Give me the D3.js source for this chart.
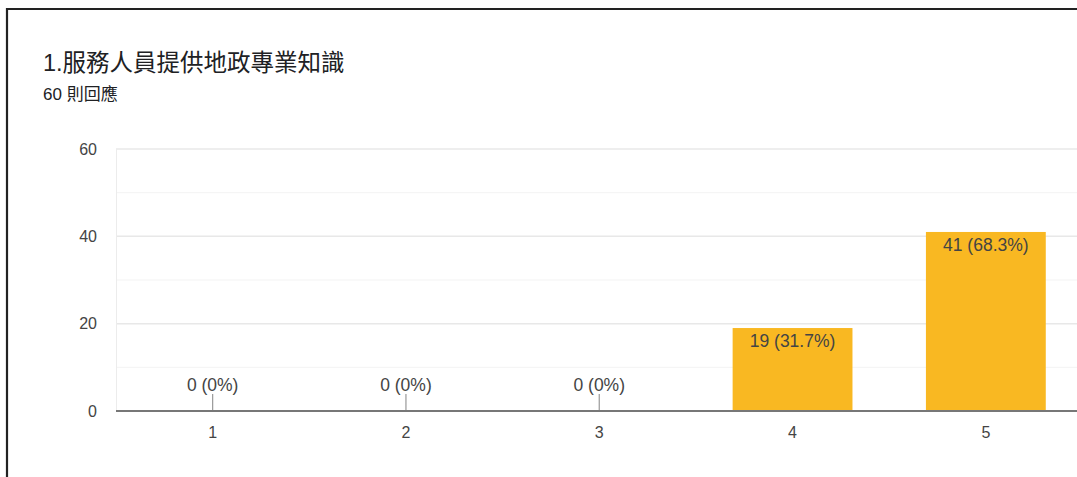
<!DOCTYPE html>
<html><head><meta charset="utf-8">
<script src="https://cdn.jsdelivr.net/npm/d3@7"></script>
<style>
html,body{margin:0;padding:0;background:#fff;}
svg{display:block;}
</style></head>
<body>
<svg id="chart" width="1077" height="477"></svg>
<script>
const titleText = "1.服務人員提供地政專業知識";
const subtitleText = "60 則回應";
const categories = ["1","2","3","4","5"];
const counts = [0,0,0,19,41];
const percents = ["0%","0%","0%","31.7%","68.3%"];
const yTicks = [0,20,40,60];
const yMinor = [10,30,50];

const svg = d3.select("#chart");
const font = "'Liberation Sans', Arial, 'Noto Sans CJK TC', sans-serif";

// frame
svg.append("path").attr("d","M7,477 L7,9 L1077,9").attr("fill","none").attr("stroke","#222").attr("stroke-width",2.2);

svg.append("text").attr("x",43).attr("y",71).text(titleText)
  .attr("font-family",font).attr("font-size",23.5).attr("fill","#202124");
svg.append("text").attr("x",43).attr("y",100).text(subtitleText)
  .attr("font-family",font).attr("font-size",17).attr("fill","#202124");

const x = d3.scaleBand().domain(categories).range([116,1082.5]).paddingInner(0.38).paddingOuter(0.19);
const y = d3.scaleLinear().domain([0,60]).range([411,149]);

// minor gridlines
svg.append("g").selectAll("line").data(yMinor).join("line")
  .attr("x1",116).attr("x2",1077).attr("y1",d=>y(d)).attr("y2",d=>y(d))
  .attr("stroke","#f3f3f3").attr("stroke-width",1);
// major gridlines
svg.append("g").selectAll("line").data(yTicks.filter(d=>d>0)).join("line")
  .attr("x1",116).attr("x2",1077).attr("y1",d=>y(d)).attr("y2",d=>y(d))
  .attr("stroke","#e8e8e8").attr("stroke-width",1.5);
// left vertical line of plot
svg.append("line").attr("x1",116.5).attr("x2",116.5).attr("y1",y(60)).attr("y2",y(0)).attr("stroke","#ececec");

// y axis labels
const yAxis = d3.axisLeft(y).tickValues(yTicks).tickSize(0).tickPadding(19);
const gy = svg.append("g").attr("transform","translate(116,0)").call(yAxis);
gy.select(".domain").remove();
gy.selectAll("text").attr("font-family",font).attr("font-size",16).attr("fill","#444");

// bars
const data = categories.map((c,i)=>({c, v:counts[i], p:percents[i]}));
svg.append("g").selectAll("rect").data(data.filter(d=>d.v>0)).join("rect")
  .attr("x",d=>x(d.c)).attr("width",x.bandwidth())
  .attr("y",d=>y(d.v)).attr("height",d=>y(0)-y(d.v))
  .attr("fill","#f9b822");

// zero ticks
svg.append("g").selectAll("line").data(data.filter(d=>d.v===0)).join("line")
  .attr("x1",d=>x(d.c)+x.bandwidth()/2).attr("x2",d=>x(d.c)+x.bandwidth()/2)
  .attr("y1",394).attr("y2",y(0)).attr("stroke","#999").attr("stroke-width",1.2);

// labels
svg.append("g").selectAll("text").data(data).join("text")
  .attr("x",d=>x(d.c)+x.bandwidth()/2)
  .attr("y",d=>d.v>0 ? y(d.v)+19 : 391)
  .attr("text-anchor","middle")
  .attr("font-family",font).attr("font-size",17.5).attr("fill","#444")
  .text(d=>`${d.v} (${d.p})`);

// x axis
const xAxis = d3.axisBottom(x).tickSize(0).tickPadding(16);
const gx = svg.append("g").attr("transform","translate(0,411)").call(xAxis);
gx.select(".domain").attr("stroke","#777").attr("stroke-width",2).attr("d","M116,0H1077");
gx.selectAll("text").attr("font-family",font).attr("font-size",16).attr("fill","#444");
</script>
</body></html>
